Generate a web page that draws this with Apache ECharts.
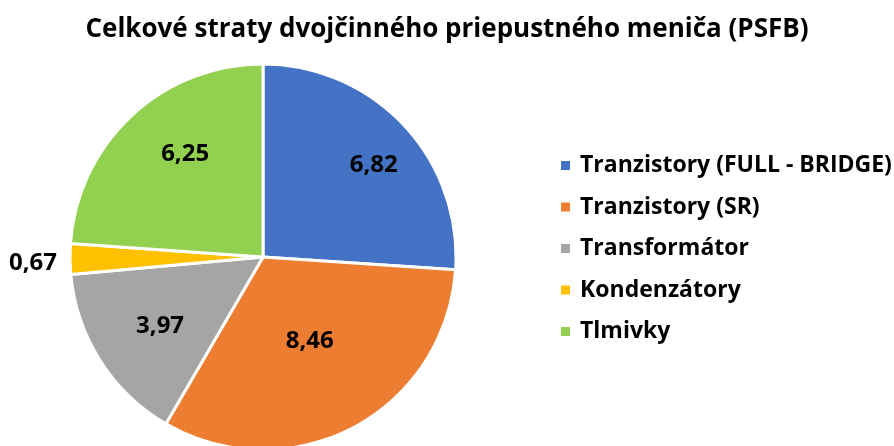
<!DOCTYPE html>
<html>
<head>
<meta charset="utf-8">
<script src="https://cdn.jsdelivr.net/npm/echarts@6/dist/echarts.min.js"></script>
<style>
  html, body { margin: 0; padding: 0; background: #fff; }
  #chart { width: 894px; height: 446px; }
</style>
</head>
<body>
<div id="chart"></div>
<script>
const categories = ['Tranzistory (FULL - BRIDGE)', 'Tranzistory (SR)', 'Transformátor', 'Kondenzátory', 'Tlmivky']
const values = [6.82, 8.46, 3.97, 0.67, 6.25]
const colors = ['#4472C4', '#ED7D31', '#A5A5A5', '#FFC000', '#92D050']
// label nudges so they sit roughly where Excel put them
const labelOffsets = [[38, -24], [0, -4], [-19, 16], [0, 4], [-10, -30]]

const font = '"Open Sans", "Noto Sans", sans-serif'

const myChart = echarts.init(document.getElementById('chart'))

const data = categories.map((name, i) => {
  const item = { name, value: values[i], itemStyle: { color: colors[i] } }
  if (i === 3) {
    item.label = { position: 'outside', distance: 5, offset: labelOffsets[i] }
    item.labelLine = { show: false, length: 4, length2: 4 }
  } else {
    item.label = { position: 'inside', offset: labelOffsets[i] }
  }
  return item
})

myChart.setOption({
  animation: false,
  title: {
    text: 'Celkové straty dvojčinného priepustného meniča (PSFB)',
    left: 'center',
    top: 17,
    padding: 0,
    textStyle: { fontFamily: font, fontWeight: 'bold', fontSize: 26, color: '#000' }
  },
  legend: {
    orient: 'vertical',
    left: 554,
    top: 149,
    icon: 'rect',
    itemWidth: 11,
    itemHeight: 11,
    itemGap: 18.5,
    textStyle: { fontFamily: font, fontWeight: 'bold', fontSize: 23, color: '#000', padding: [0, 0, 0, 4] },
    data: categories
  },
  series: [
    {
      type: 'pie',
      center: [263, 257],
      radius: 193,
      startAngle: 90,
      clockwise: true,
      avoidLabelOverlap: false,
      itemStyle: { borderColor: '#fff', borderWidth: 3 },
      label: {
        show: true,
        formatter: p => String(p.value).replace('.', ','),
        fontFamily: font,
        fontWeight: 'bold',
        fontSize: 24,
        color: '#000'
      },
      emphasis: { disabled: true },
      data: data
    }
  ]
})
</script>
</body>
</html>
